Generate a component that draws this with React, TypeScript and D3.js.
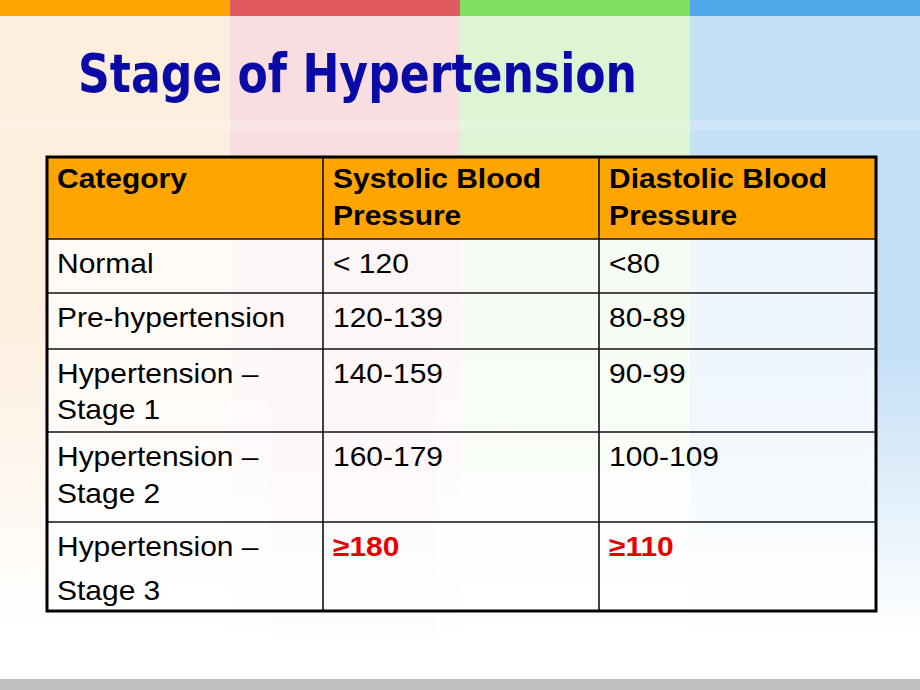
import React from "react";
import * as d3 from "d3";

// ---- data ----
const headers: string[][] = [["Category"], ["Systolic Blood", "Pressure"], ["Diastolic Blood", "Pressure"]];
const categories: string[][] = [
  ["Normal"],
  ["Pre-hypertension"],
  ["Hypertension –", "Stage 1"],
  ["Hypertension –", "Stage 2"],
  ["Hypertension –", "Stage 3"],
];
const systolic: string[] = ["< 120", "120-139", "140-159", "160-179", "≥180"];
const diastolic: string[] = ["<80", "80-89", "90-99", "100-109", "≥110"];
const highlight: boolean[] = [false, false, false, false, true];
const title = "Stage of Hypertension";

// ---- layout ----
const W = 920, H = 690;
const bandColors = ["#FFA502", "#E15A60", "#80E060", "#4FA8EA"];
const paleColors = ["#FDEEDD", "#F8DEE1", "#DDF4D5", "#C6E0F6"];
const colEdges = [47, 323, 599, 876];
const rowEdges = [157, 239, 293, 349, 432, 522, 611];
const lineGaps = [37, 37, 37, 36, 37, 44];
const FS = 27;
const SX = 1.11;

function CellText({ x, y, lines, gap, bold, color }: any) {
  return (
    <g transform={`translate(${x},${y}) scale(${SX},1)`}>
      {lines.map((t: string, i: number) => (
        <text key={i} x={0} y={i * gap} fontFamily="'Liberation Sans', Arial, sans-serif" fontSize={FS}
          fontWeight={bold ? "bold" : "normal"} fill={color}>{t}</text>
      ))}
    </g>
  );
}

export default function App() {
  const xBand = d3.scaleBand<number>().domain([0, 1, 2, 3]).range([0, W]);
  const rows = [headers, ...categories.map((c, i) => [c, [systolic[i]], [diastolic[i]]])];
  return (
    <svg width={W} height={H} style={{ position: "absolute", left: 0, top: 0 }}>
      <defs>
        {paleColors.map((c, i) => (
          <linearGradient key={i} id={`g${i}`} x1="0" y1="0" x2="0" y2="1">
            <stop offset="0%" stopColor={c} />
            <stop offset={i === 3 ? "55%" : "45%"} stopColor={c} />
            <stop offset="100%" stopColor="#FFFFFF" />
          </linearGradient>
        ))}
        {paleColors.map((c, i) => (
          <linearGradient key={"s" + i} id={`s${i}`} x1="0" y1="0" x2="0" y2="1">
            <stop offset="0%" stopColor={c} stopOpacity={0.9} />
            <stop offset="60%" stopColor={c} stopOpacity={0.6} />
            <stop offset="100%" stopColor={c} stopOpacity={0} />
          </linearGradient>
        ))}
      </defs>
      <rect x={0} y={0} width={W} height={H} fill="#FFFFFF" />
      {[0, 1, 2, 3].map((i) => (
        <rect key={"bg" + i} x={xBand(i)} y={16} width={xBand.bandwidth()} height={620} fill={`url(#g${i})`} />
      ))}
      {/* inner strips */}
      <rect x={270} y={130} width={165} height={520} fill="url(#s1)" opacity={0.8} />
      <rect x={690} y={130} width={180} height={420} fill="url(#s3)" />
      <rect x={0} y={120} width={W} height={10} fill="#FFFFFF" opacity={0.18} />
      {[0, 1, 2, 3].map((i) => (
        <rect key={"band" + i} x={xBand(i)} y={0} width={xBand.bandwidth()} height={16} fill={bandColors[i]} />
      ))}
      <rect x={0} y={679} width={W} height={11} fill="#C0C0C0" />

      <text x={78} y={92} fontFamily="'Comic Sans MS', 'DejaVu Sans', sans-serif" fontWeight="bold" fontSize={53}
        fill="#0A0AA6" textLength={559} lengthAdjust="spacingAndGlyphs">{title}</text>

      {/* table cells */}
      {rows.map((row, r) => (
        <g key={"r" + r}>
          {row.map((_, c) => (
            <rect key={c} x={colEdges[c]} y={rowEdges[r]} width={colEdges[c + 1] - colEdges[c]}
              height={rowEdges[r + 1] - rowEdges[r]} fill={r === 0 ? "#FFA500" : "#FFFFFF"}
              fillOpacity={r === 0 ? 1 : 0.72} />
          ))}
        </g>
      ))}
      {/* inner lines */}
      {rowEdges.slice(1, -1).map((y, i) => (
        <line key={"h" + i} x1={colEdges[0]} x2={colEdges[3]} y1={y} y2={y} stroke="#111" strokeWidth={1.6} />
      ))}
      {colEdges.slice(1, -1).map((x, i) => (
        <line key={"v" + i} x1={x} x2={x} y1={rowEdges[0]} y2={rowEdges[6]} stroke="#111" strokeWidth={1.6} />
      ))}
      <rect x={colEdges[0]} y={rowEdges[0]} width={colEdges[3] - colEdges[0]} height={rowEdges[6] - rowEdges[0]}
        fill="none" stroke="#000" strokeWidth={3} />

      {/* text */}
      {rows.map((row, r) =>
        row.map((lines, c) => {
          const red = r > 0 && c > 0 && highlight[r - 1];
          return (
            <CellText key={r + "-" + c} x={colEdges[c] + 10} y={rowEdges[r] + (r === 0 ? 31 : 34)} lines={lines}
              gap={lineGaps[r]} bold={r === 0 || red} color={red ? "#E60000" : "#000"} />
          );
        })
      )}
    </svg>
  );
}
